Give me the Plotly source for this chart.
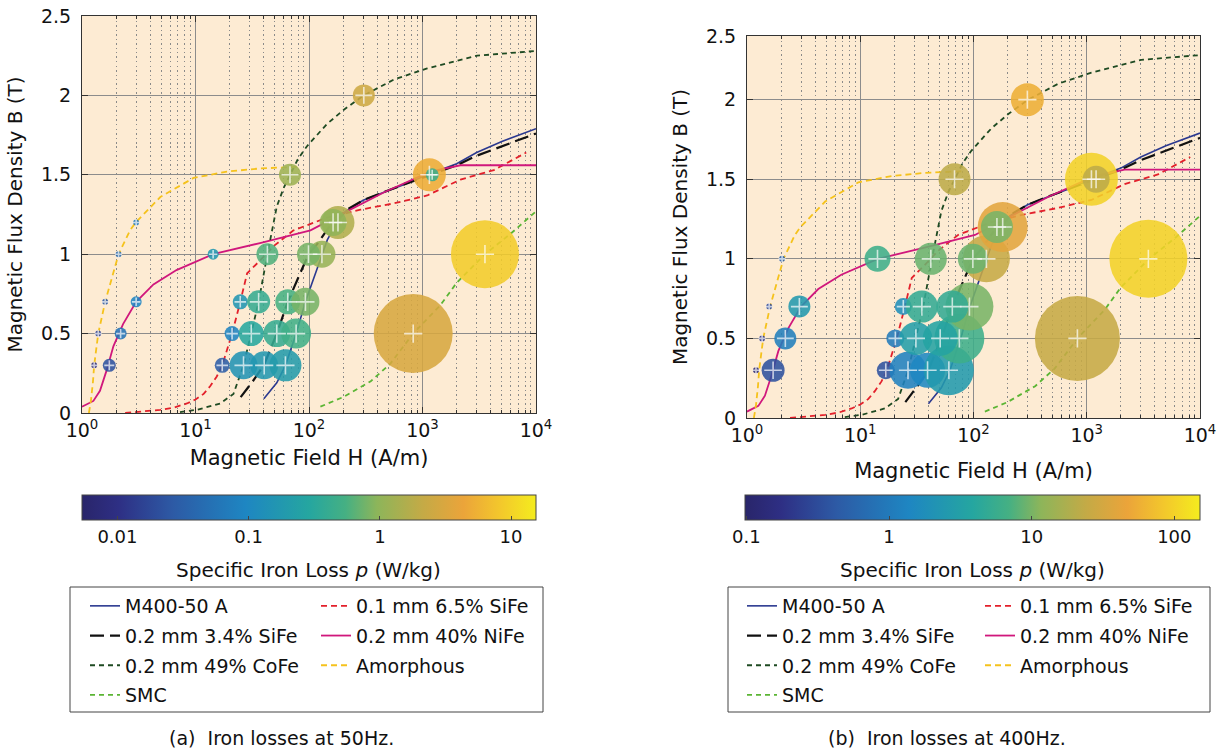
import numpy as np
import plotly.graph_objects as go

# ---------------- B-H curves (same materials in both panels) ----------------
materials = ["M400-50 A", "0.1 mm 6.5% SiFe", "0.2 mm 3.4% SiFe", "0.2 mm 40% NiFe",
             "0.2 mm 49% CoFe", "Amorphous", "SMC"]

H_m400 = [40, 52, 62, 77, 93, 130, 145, 170, 210, 300, 460, 700, 1100, 2000, 3000, 5000, 10000]
B_m400 = [0.09, 0.19, 0.3, 0.5, 0.7, 1.0, 1.09, 1.18, 1.27, 1.34, 1.39, 1.44, 1.5, 1.57, 1.64, 1.71, 1.79]

H_sife65 = [2.4, 3.5, 4.9, 6.5, 8.4, 10, 11.8, 13.5, 15.4, 17.2, 21, 24.8, 28.5, 37, 48.6, 73, 144, 284, 560, 1100, 2160, 4250, 8200]
B_sife65 = [0.0, 0.01, 0.02, 0.035, 0.06, 0.085, 0.12, 0.17, 0.23, 0.3, 0.5, 0.7, 0.88, 0.96, 1.05, 1.15, 1.23, 1.28, 1.32, 1.37, 1.47, 1.53, 1.64]

H_sife34 = [25, 32, 40, 52, 65, 99, 117, 150, 216, 300, 490, 1100, 2000, 3000, 5000, 10000]
B_sife34 = [0.1, 0.2, 0.3, 0.5, 0.7, 1.0, 1.06, 1.17, 1.28, 1.34, 1.4, 1.49, 1.56, 1.62, 1.68, 1.76]

H_nife = [1, 1.26, 1.44, 1.65, 1.89, 2.3, 3.0, 4.26, 6.8, 14.3, 37, 103, 203, 460, 1170, 2160, 10000]
B_nife = [0.04, 0.076, 0.14, 0.27, 0.42, 0.56, 0.7, 0.81, 0.9, 1.0, 1.07, 1.15, 1.26, 1.39, 1.52, 1.56, 1.56]

H_cofe = [7.3, 10.3, 16.5, 21.6, 26.5, 31, 36, 43, 47, 52, 60, 68, 80, 96, 144, 203, 304, 560, 1100, 3030, 10000]
B_cofe = [0.006, 0.02, 0.06, 0.12, 0.3, 0.5, 0.7, 1.0, 1.15, 1.3, 1.42, 1.5, 1.6, 1.68, 1.82, 1.91, 2.0, 2.1, 2.17, 2.25, 2.28]

H_amor = [1.15, 1.2, 1.25, 1.28, 1.39, 1.6, 2.1, 2.65, 2.97, 4.9, 9.6, 18.9, 37, 78]
B_amor = [0.0, 0.08, 0.2, 0.3, 0.5, 0.7, 1.0, 1.15, 1.2, 1.36, 1.48, 1.52, 1.54, 1.55]

H_smc = [126, 200, 350, 520, 828, 1440, 2000, 3550, 6000, 10000]
B_smc = [0.04, 0.1, 0.2, 0.31, 0.5, 0.68, 0.82, 1.0, 1.13, 1.27]

curves_H = [H_m400, H_sife65, H_sife34, H_nife, H_cofe, H_amor, H_smc]
curves_B = [B_m400, B_sife65, B_sife34, B_nife, B_cofe, B_amor, B_smc]

# ---------------- measured iron-loss points ----------------
# 50 Hz
H50 = [1.28, 1.74, 17.2, 26.5, 40.3, 62, 1.39, 2.19, 21, 31, 52, 77, 1.6, 3.0, 24.8, 36, 65, 93,
       2.1, 14.3, 43, 130, 99, 828, 3550, 3.0, 180, 163, 68, 1150, 1217, 304]
B50 = [0.3, 0.3, 0.3, 0.3, 0.3, 0.3, 0.5, 0.5, 0.5, 0.5, 0.5, 0.5, 0.7, 0.7, 0.7, 0.7, 0.7, 0.7,
       1.0, 1.0, 1.0, 1.0, 1.0, 0.5, 1.0, 1.2, 1.2, 1.2, 1.5, 1.5, 1.5, 2.0]
p50 = [0.008, 0.022, 0.028, 0.15, 0.17, 0.2, 0.015, 0.055, 0.09, 0.3, 0.4, 0.5, 0.025, 0.09, 0.16, 0.4, 0.55, 0.8,
       0.04, 0.17, 0.6, 1.1, 0.8, 3.0, 9.0, 0.06, 1.6, 1.0, 1.2, 5.0, 0.45, 2.5]
s50 = [6, 13, 15, 28, 28, 32, 6, 12, 15, 25, 27, 30, 6, 11, 15, 23, 25, 28,
       6, 11, 22, 27, 23, 79, 68, 6, 33, 27, 22, 33, 13, 22]

# 400 Hz
H400 = [1.2, 1.7, 16.8, 26.4, 39.3, 60.6, 1.36, 2.18, 20.4, 75, 31, 50.8, 1.57, 2.9, 24, 92, 35, 65,
        2.04, 14.2, 42, 130, 98.7, 827, 3500, 181, 161, 68, 1100, 1209, 299]
B400 = [0.3, 0.3, 0.3, 0.3, 0.3, 0.3, 0.5, 0.5, 0.5, 0.5, 0.5, 0.5, 0.7, 0.7, 0.7, 0.7, 0.7, 0.7,
        1.0, 1.0, 1.0, 1.0, 1.0, 0.5, 1.0, 1.2, 1.2, 1.5, 1.5, 1.5, 2.0]
p400 = [0.12, 0.35, 0.35, 1.2, 1.4, 2.6, 0.2, 1.1, 1.0, 6, 3.0, 3.5, 0.3, 2.5, 1.8, 10, 5, 5,
        0.5, 6, 9, 25, 9, 25, 100, 40, 10, 22, 100, 22, 55]
s400 = [6, 23, 18, 37, 35, 50, 6, 22, 18, 50, 33, 35, 6, 22, 17, 48, 32, 32,
        6, 26, 32, 47, 30, 85, 78, 50, 32, 32, 53, 27, 33]

# colour bar limits (log10 W/kg) and tick labels
cb50_range = [-2.27, 1.19]
cb50_ticks = [0.01, 0.1, 1, 10]
cb50_text = ["0.01", "0.1", "1", "10"]
cb400_range = [-1.01, 2.18]
cb400_ticks = [0.1, 1, 10, 100]
cb400_text = ["0.1", "1", "10", "100"]

x_ticks = [1, 10, 100, 1000, 10000]
x_ticktext = ["10<sup>0</sup>", "10<sup>1</sup>", "10<sup>2</sup>", "10<sup>3</sup>", "10<sup>4</sup>"]

# ---------------- styles ----------------
line_styles = [
    dict(color="#2b3990", width=1.6, dash="solid"),
    dict(color="#e3202b", width=1.8, dash="6px,4px"),
    dict(color="#111111", width=2.2, dash="14px,6px"),
    dict(color="#d0177c", width=1.8, dash="solid"),
    dict(color="#1e4a22", width=1.8, dash="5px,4px"),
    dict(color="#f5c21c", width=1.8, dash="6px,4px"),
    dict(color="#5bb534", width=1.8, dash="5px,4px"),
]

parula = [
    [0.00, "#29256a"], [0.08, "#2e2f84"], [0.20, "#2d5aa5"], [0.36, "#1e86c2"],
    [0.50, "#25a6a0"], [0.58, "#45b083"], [0.65, "#8db55a"], [0.75, "#c4aa46"],
    [0.84, "#eba43a"], [0.92, "#f3c72c"], [1.00, "#f4ec1e"],
]

FONT = "DejaVu Sans"
W, Hh = 1223, 754

def px_x(p):
    return p / W

def px_y(p):
    return 1 - p / Hh

col1 = [0, 2, 4, 6]
col2 = [1, 3, 5]

fig = go.Figure()

panels = [
    dict(xa="x", ya="y", H=H50, B=B50, p=p50, s=s50, cax="coloraxis", legs=("legend", "legend2")),
    dict(xa="x2", ya="y2", H=H400, B=B400, p=p400, s=s400, cax="coloraxis2", legs=("legend3", "legend4")),
]

for k, pn in enumerate(panels):
    for i, name in enumerate(materials):
        leg = pn["legs"][0] if i in col1 else pn["legs"][1]
        fig.add_trace(go.Scatter(
            x=curves_H[i], y=curves_B[i], mode="lines", name=name,
            line=line_styles[i], xaxis=pn["xa"], yaxis=pn["ya"],
            legend=leg, legendgroup=f"g{k}{i}", hoverinfo="skip"))
    logp = np.log10(np.array(pn["p"], dtype=float))
    sizes = np.array(pn["s"], dtype=float)
    fig.add_trace(go.Scatter(
        x=pn["H"], y=pn["B"], mode="markers", showlegend=False,
        xaxis=pn["xa"], yaxis=pn["ya"],
        marker=dict(size=sizes, color=logp, coloraxis=pn["cax"], opacity=0.88,
                    line=dict(width=0))))
    fig.add_trace(go.Scatter(
        x=pn["H"], y=pn["B"], mode="markers", showlegend=False,
        xaxis=pn["xa"], yaxis=pn["ya"], hoverinfo="skip",
        marker=dict(symbol="cross-thin", size=np.clip(sizes * 0.55, 5, 13),
                    line=dict(color="white", width=1.6))))

minor_vals = [m * 10 ** e for e in range(0, 4) for m in range(2, 10)]

def xaxis_cfg(domain, anchor, standoff):
    return dict(
        type="log", range=[0, 4], domain=domain, anchor=anchor,
        tickvals=x_ticks, ticktext=x_ticktext, ticks="inside", ticklen=6,
        tickcolor="#333", showgrid=True, gridcolor="#8c8c8c", gridwidth=1,
        showline=True, linecolor="#333", linewidth=1, mirror="ticks", zeroline=False,
        tickfont=dict(family=FONT, size=19, color="#111"),
        minor=dict(tickvals=minor_vals, ticks="inside", ticklen=3, tickcolor="#333",
                   showgrid=True, gridcolor="#8a8a8a", griddash="1.5px,3px", gridwidth=1),
        title=dict(text="Magnetic Field H (A/m)", font=dict(family=FONT, size=21, color="#111"),
                   standoff=standoff),
        automargin=False)

def yaxis_cfg(domain, anchor, rng, tickvals, ticktext):
    return dict(
        range=rng, domain=domain, anchor=anchor, tickvals=tickvals, ticktext=ticktext,
        ticks="inside", ticklen=6, tickcolor="#333",
        showgrid=True, gridcolor="#8c8c8c", gridwidth=1,
        showline=True, linecolor="#333", linewidth=1, mirror="ticks", zeroline=False,
        tickfont=dict(family=FONT, size=19, color="#111"), ticklabelstandoff=6,
        title=dict(text="Magnetic Flux Density B (T)", font=dict(family=FONT, size=20, color="#111"),
                   standoff=12),
        automargin=False)

fig.update_layout(
    width=W, height=Hh, margin=dict(l=0, r=0, t=0, b=0),
    paper_bgcolor="white", plot_bgcolor="#fdebd3",
    xaxis=xaxis_cfg([px_x(82), px_x(536)], "y", 10),
    yaxis=yaxis_cfg([px_y(413), px_y(16)], "x", [0, 2.5],
                    [0, 0.5, 1, 1.5, 2, 2.5], ["0", "0.5", "1", "1.5", "2", "2.5"]),
    xaxis2=xaxis_cfg([px_x(747), px_x(1200)], "y2", 18),
    yaxis2=yaxis_cfg([px_y(418), px_y(36)], "x2", [0, 2.4],
                     [0, 0.5, 1, 1.5, 2, 2.4], ["0", "0.5", "1", "1.5", "2", "2.5"]),
    coloraxis=dict(
        colorscale=parula, cmin=cb50_range[0], cmax=cb50_range[1],
        colorbar=dict(orientation="h", x=px_x((82 + 536) / 2), xanchor="center",
                      y=px_y(495), yanchor="top", len=454, lenmode="pixels",
                      thickness=25, thicknessmode="pixels", xpad=0, ypad=0,
                      outlinewidth=1, outlinecolor="#444",
                      tickvals=np.log10(cb50_ticks), ticktext=cb50_text,
                      ticks="inside", ticklen=4, tickcolor="#444",
                      tickfont=dict(family=FONT, size=18, color="#111"))),
    coloraxis2=dict(
        colorscale=parula, cmin=cb400_range[0], cmax=cb400_range[1],
        colorbar=dict(orientation="h", x=px_x((745 + 1200) / 2), xanchor="center",
                      y=px_y(495), yanchor="top", len=455, lenmode="pixels",
                      thickness=25, thicknessmode="pixels", xpad=0, ypad=0,
                      outlinewidth=1, outlinecolor="#444",
                      tickvals=np.log10(cb400_ticks), ticktext=cb400_text,
                      ticks="inside", ticklen=4, tickcolor="#444",
                      tickfont=dict(family=FONT, size=18, color="#111"))),
    showlegend=True,
)

leg_common = dict(xanchor="left", yanchor="top", y=px_y(587), bgcolor="rgba(0,0,0,0)",
                  borderwidth=0, tracegroupgap=2, orientation="v",
                  font=dict(family=FONT, size=19, color="#111"))
fig.update_layout(
    legend=dict(x=px_x(85), **leg_common),
    legend2=dict(x=px_x(316), **leg_common),
    legend3=dict(x=px_x(742), **leg_common),
    legend4=dict(x=px_x(980), **leg_common),
)

# legend frames
for (x0, x1) in [(70, 543), (728, 1210)]:
    fig.add_shape(type="rect", xref="paper", yref="paper",
                  x0=px_x(x0), x1=px_x(x1), y0=px_y(712), y1=px_y(587),
                  line=dict(color="#444", width=1), fillcolor="rgba(0,0,0,0)")

# colour bar titles
for cx in [308, 972]:
    fig.add_annotation(x=px_x(cx), y=px_y(570), xref="paper", yref="paper",
                       xanchor="center", yanchor="middle",
                       text="Specific Iron Loss <i>p</i> (W/kg)", showarrow=False,
                       font=dict(family=FONT, size=20, color="#111"))
# panel captions
for cx, cap in [(281, "(a)\u00a0\u00a0Iron losses at 50Hz."),
                (947, "(b)\u00a0\u00a0Iron losses at 400Hz.")]:
    fig.add_annotation(x=px_x(cx), y=px_y(738), xref="paper", yref="paper",
                       xanchor="center", yanchor="middle",
                       text=cap, showarrow=False,
                       font=dict(family=FONT, size=19, color="#111"))

fig.write_html("out.html")
